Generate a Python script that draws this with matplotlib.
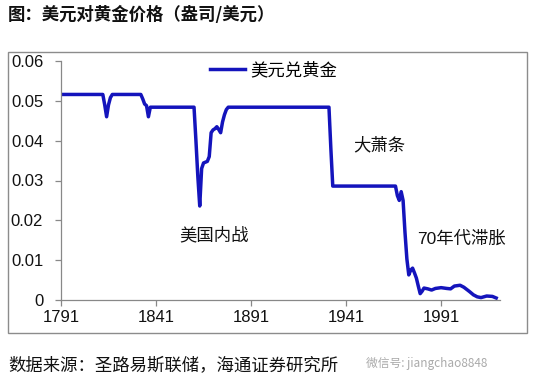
import matplotlib
matplotlib.use('Agg')
import matplotlib.pyplot as plt
from matplotlib.patches import Rectangle
import numpy as np

# dollars per ounce of gold, inverted (ounces per dollar)
years = [1791, 1813, 1814, 1815, 1816, 1817, 1818,
         1833, 1834, 1835, 1836, 1837, 1838,
         1861, 1862, 1863, 1864, 1865, 1866, 1867, 1868, 1869, 1870, 1871,
         1872, 1873, 1874, 1875, 1876, 1877, 1878, 1879,
         1932, 1933, 1934,
         1967, 1968, 1969, 1970, 1971, 1972, 1973, 1974, 1975, 1976, 1977,
         1978, 1979, 1980, 1981, 1982, 1984, 1986, 1988, 1991, 1994, 1996,
         1998, 2001, 2003, 2006, 2008, 2010, 2012, 2015, 2018, 2020]
values = [0.0516, 0.0516, 0.0490, 0.0460, 0.0490, 0.0508, 0.0516,
          0.0516, 0.0505, 0.0492, 0.0488, 0.0460, 0.0484,
          0.0484, 0.0400, 0.0310, 0.0236, 0.0330, 0.0344, 0.0346, 0.0348, 0.0360, 0.0420, 0.0427,
          0.0430, 0.0435, 0.0428, 0.0420, 0.0447, 0.0465, 0.0478, 0.0484,
          0.0484, 0.0380, 0.0286,
          0.0286, 0.0262, 0.0250, 0.0272, 0.0250, 0.0170, 0.0103, 0.0063, 0.0075, 0.0080, 0.0068,
          0.0055, 0.0035, 0.0016, 0.0022, 0.0030, 0.0028, 0.0025, 0.0029, 0.0031, 0.0029, 0.0028,
          0.0035, 0.0037, 0.0032, 0.0021, 0.0013, 0.0008, 0.0006, 0.0010, 0.0009, 0.0005]

xticks = [1791, 1841, 1891, 1941, 1991]
yticks = [0, 0.01, 0.02, 0.03, 0.04, 0.05, 0.06]
ytick_labels = ["0", "0.01", "0.02", "0.03", "0.04", "0.05", "0.06"]

cjk = ['Noto Sans CJK SC', 'DejaVu Sans']
arial = ['Liberation Sans', 'Noto Sans CJK SC']

W, H = 542, 391
fig = plt.figure(figsize=(W / 100, H / 100), dpi=100)
ax = fig.add_axes([61 / W, 1 - 300 / H, (500 - 61) / W, (300 - 61) / H])

line_color = '#1414bc'
ax.plot(years, values, color=line_color, lw=2.5, solid_joinstyle='round', label='美元兑黄金')

ax.set_xlim(1791, 2022)
ax.set_ylim(0, 0.06)
ax.set_xticks(xticks)
ax.set_xticklabels([str(t) for t in xticks], family=arial, fontsize=12)
ax.set_yticks(yticks)
ax.set_yticklabels(ytick_labels, family=arial, fontsize=12)

for s in ['top', 'right']:
    ax.spines[s].set_visible(False)
for s in ['left', 'bottom']:
    ax.spines[s].set_color('#888888')
    ax.spines[s].set_linewidth(0.9)
ax.tick_params(axis='both', direction='out', length=4.3, width=0.9, color='#888888', labelcolor='#111111')
ax.tick_params(axis='y', pad=8.5)
ax.tick_params(axis='x', pad=3)

# annotations
ax.text(214 / W, 1 - 235 / H, '美国内战', transform=fig.transFigure, ha='center', va='center',
        family=cjk, fontsize=12.5, color='#111111')
ax.text(379 / W, 1 - 145 / H, '大萧条', transform=fig.transFigure, ha='center', va='center',
        family=cjk, fontsize=12.5, color='#111111')
ax.text(417 / W, 1 - 239 / H, '70年代滞胀', transform=fig.transFigure, ha='left', va='center',
        family=arial, fontsize=12.5, color='#111111')

leg = ax.legend(loc='center left', bbox_to_anchor=(210 / W, 1 - 70 / H), bbox_transform=fig.transFigure,
                frameon=False, borderaxespad=0, borderpad=0, handlelength=2.0, handletextpad=0.3,
                prop={'family': cjk, 'size': 12.5})

# outer frame around the chart
fig.patches.append(Rectangle((8 / W, 1 - 333 / H), 519 / W, 281 / H, transform=fig.transFigure,
                             fill=False, edgecolor='#8c8c8c', lw=1))

fig.text(8 / W, 1 - 15 / H, '图：美元对黄金价格（盎司/美元）', ha='left', va='center',
         family=cjk, fontsize=12.5, fontweight='bold', color='#111111')
fig.text(8 / W, 1 - 366 / H, '数据来源：圣路易斯联储，海通证券研究所', ha='left', va='center',
         family=cjk, fontsize=12.5, color='#111111')
fig.text(366 / W, 1 - 363 / H, '微信号: jiangchao8848', ha='left', va='center',
         family=cjk, fontsize=8.5, color='#aaaaaa')

fig.savefig('out.png', dpi=100)
